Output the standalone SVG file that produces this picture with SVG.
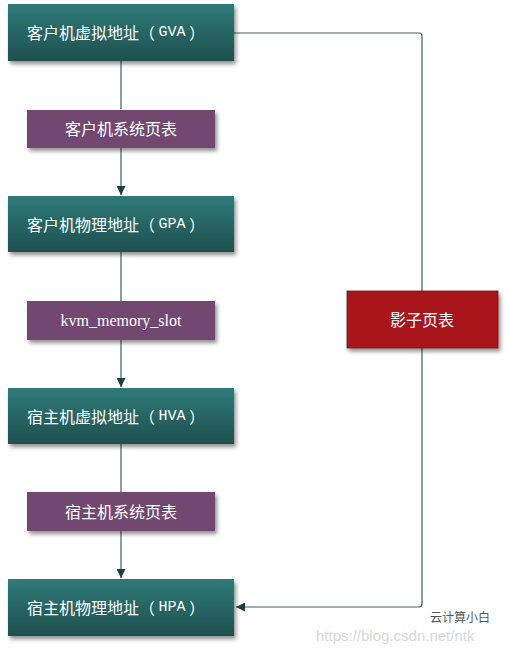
<svg xmlns="http://www.w3.org/2000/svg" width="506" height="648" viewBox="0 0 506 648">
<style>
.t{font-family:"Noto Sans CJK SC","Liberation Serif",sans-serif;font-size:16px;fill:#ffffff;text-anchor:middle;dominant-baseline:central}
.s{font-family:"Liberation Serif","Noto Sans CJK SC",serif;font-size:16px;fill:#ffffff;text-anchor:middle;dominant-baseline:central}
.m{font-family:"Liberation Mono",monospace;font-size:15px}
.c{fill:none;stroke:#3d5f5c;stroke-width:1.2}
.wm{font-family:"Liberation Sans","Noto Sans CJK SC",sans-serif;font-size:15px;fill:#d8d8d8}
</style>
<defs>
<linearGradient id="teal" x1="0" y1="0" x2="0" y2="1">
<stop offset="0" stop-color="#2f7b79"/>
<stop offset="1" stop-color="#1f4f4e"/>
</linearGradient>
<filter id="sh" x="-10%" y="-20%" width="125%" height="150%">
<feGaussianBlur in="SourceAlpha" stdDeviation="2"/>
<feOffset dx="2" dy="3" result="b"/>
<feComponentTransfer><feFuncA type="linear" slope="0.45"/></feComponentTransfer>
<feMerge><feMergeNode/><feMergeNode in="SourceGraphic"/></feMerge>
</filter>
<marker id="arr" viewBox="0 0 10 10" refX="10" refY="5" markerWidth="9" markerHeight="9" markerUnits="userSpaceOnUse" orient="auto">
<path d="M0,0 L10,5 L0,10 z" fill="#1f3f3d"/>
</marker>
</defs>
<rect width="506" height="648" fill="#ffffff"/>
<g id="connectors">
<line class="c" x1="121" y1="61" x2="121" y2="109"/>
<line class="c" x1="121" y1="148" x2="121" y2="195" marker-end="url(#arr)"/>
<line class="c" x1="121" y1="252" x2="121" y2="301"/>
<line class="c" x1="121" y1="340" x2="121" y2="387" marker-end="url(#arr)"/>
<line class="c" x1="121" y1="444" x2="121" y2="492"/>
<line class="c" x1="121" y1="531" x2="121" y2="578" marker-end="url(#arr)"/>
<path class="c" d="M234,33 H419 Q422,33 422,36 V604 Q422,607 419,607 H236" marker-end="url(#arr)"/>
</g>
<g id="gva"><rect x="8" y="4" width="226" height="57" fill="url(#teal)" filter="url(#sh)"/><text class="t" x="116" y="32" xml:space="preserve">客户机虚拟地址（ <tspan class="m">GVA</tspan> ）</text></g>
<g id="gpt"><rect x="27" y="110" width="188" height="38" fill="#724670" filter="url(#sh)"/><text class="t" x="121" y="128">客户机系统页表</text></g>
<g id="gpa"><rect x="8" y="196" width="226" height="56" fill="url(#teal)" filter="url(#sh)"/><text class="t" x="116" y="224" xml:space="preserve">客户机物理地址（ <tspan class="m">GPA</tspan> ）</text></g>
<g id="kvm"><rect x="27" y="301" width="188" height="39" fill="#724670" filter="url(#sh)"/><text class="s" x="121" y="320">kvm_memory_slot</text></g>
<g id="hva"><rect x="8" y="388" width="226" height="56" fill="url(#teal)" filter="url(#sh)"/><text class="t" x="116" y="416" xml:space="preserve">宿主机虚拟地址（ <tspan class="m">HVA</tspan> ）</text></g>
<g id="hpt"><rect x="27" y="492" width="188" height="39" fill="#724670" filter="url(#sh)"/><text class="t" x="121" y="511">宿主机系统页表</text></g>
<g id="hpa"><rect x="8" y="579" width="226" height="57" fill="url(#teal)" filter="url(#sh)"/><text class="t" x="116" y="607" xml:space="preserve">宿主机物理地址（ <tspan class="m">HPA</tspan> ）</text></g>
<g id="shadow"><rect x="347" y="291" width="151" height="57" fill="#a8181b" stroke="#6a1a1a" stroke-width="0.8" filter="url(#sh)"/><text class="t" x="422" y="319">影子页表</text></g>
<text class="wm" x="316" y="641">https://blog.csdn.net/ntk</text>
<text x="430" y="622" style="font-family:'Noto Sans CJK SC',sans-serif;font-size:12px;fill:#555">云计算小白</text>
</svg>
